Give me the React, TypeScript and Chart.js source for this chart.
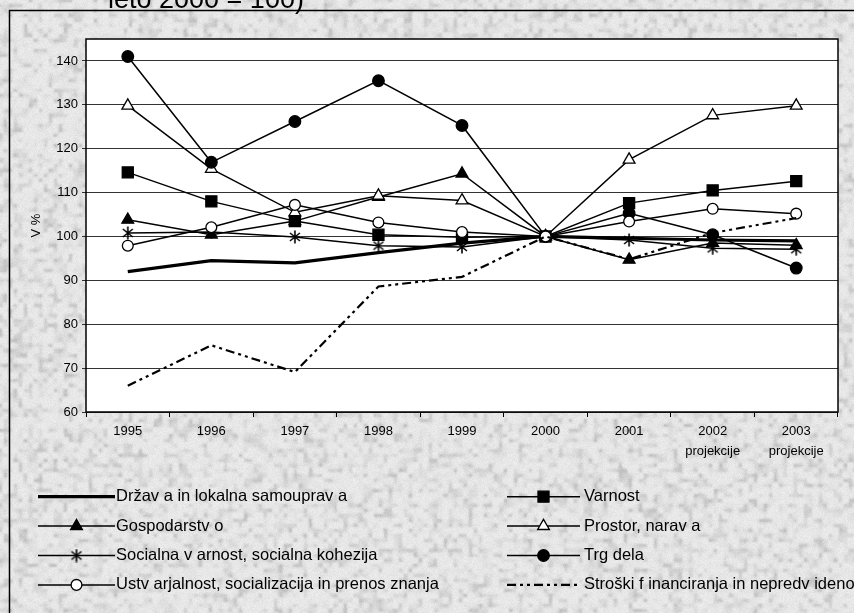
import React, { useEffect, useRef } from 'react';
import { Chart, registerables } from 'chart.js';

Chart.register(...registerables);

// ---------- data ----------
const years = ['1995', '1996', '1997', '1998', '1999', '2000', '2001', '2002', '2003'];
const yearNotes = ['', '', '', '', '', '', '', 'projekcije', 'projekcije'];
const yMin = 60;
const yMax = 145;
const yStep = 10;
const yLastTick = 140;
const yTitle = 'V %';
const headerText = 'leto 2000 = 100)';

const labelDrzava = 'Držav a in lokalna samouprav a';
const labelVarnost = 'Varnost';
const labelGospodarstvo = 'Gospodarstv o';
const labelProstor = 'Prostor, narav a';
const labelSocialna = 'Socialna v arnost, socialna kohezija';
const labelTrg = 'Trg dela';
const labelUstvarjalnost = 'Ustv arjalnost, socializacija in prenos znanja';
const labelStroski = 'Stroški f inanciranja in nepredv ideno';

const drzava = [92, 94.5, 94, 96.3, 98.5, 100, 99.6, 99.2, 99];
const varnost = [114.6, 108, 103.5, 100.4, 99.8, 100, 107.6, 110.5, 112.6];
const gospodarstvo = [103.8, 100.4, 103.5, 109, 114.3, 100, 94.7, 98.5, 98];
const prostor = [129.8, 115.4, 105.5, 109.3, 108.2, 100, 117.5, 127.6, 129.8];
const socialna = [100.8, 101, 99.9, 97.9, 97.6, 100, 99.2, 97.3, 97.1];
const trgDela = [141, 116.9, 126.2, 135.5, 125.3, 100, 105.3, 100.4, 92.8];
const ustvarjalnost = [97.9, 102.1, 107.2, 103.2, 101, 100, 103.4, 106.3, 105.2];
const stroski = [66, 75.2, 69.1, 88.6, 90.8, 100, 94.8, 100.8, 104.2];

// ---------- styling ----------
const FONT = "'Liberation Sans', Arial, sans-serif";

function makeAsterisk(): HTMLCanvasElement {
  const c = document.createElement('canvas');
  c.width = 14;
  c.height = 14;
  const g = c.getContext('2d')!;
  g.strokeStyle = '#000';
  g.lineWidth = 1.6;
  g.beginPath();
  g.moveTo(2, 3);
  g.lineTo(12, 11);
  g.moveTo(12, 3);
  g.lineTo(2, 11);
  g.moveTo(7, 0.5);
  g.lineTo(7, 13.5);
  g.stroke();
  return c;
}

let textureCache: ImageData | null = null;
function hash(x: number, y: number) {
  let h = (Math.imul(x, 374761393) + Math.imul(y, 668265263)) | 0;
  h = Math.imul(h ^ (h >>> 13), 1274126177);
  h = h ^ (h >>> 16);
  return (h >>> 0) / 4294967295;
}
function getTexture(ctx: CanvasRenderingContext2D, w: number, h: number) {
  if (textureCache && textureCache.width === w && textureCache.height === h) return textureCache;
  const img = ctx.createImageData(w, h);
  const cell = 5;
  const sm = (t: number) => t * t * (3 - 2 * t);
  for (let y = 0; y < h; y++) {
    for (let x = 0; x < w; x++) {
      const gx = x / cell, gy = y / cell;
      const x0 = Math.floor(gx), y0 = Math.floor(gy);
      const fx = sm(gx - x0), fy = sm(gy - y0);
      const a = hash(x0, y0), b = hash(x0 + 1, y0), c = hash(x0, y0 + 1), d = hash(x0 + 1, y0 + 1);
      const v = (a * (1 - fx) + b * fx) * (1 - fy) + (c * (1 - fx) + d * fx) * fy;
      const n = hash(x + 5000, y + 9000);
      let g = 238 - 40 * v * v * v - 12 * n;
      g = Math.max(0, Math.min(255, g));
      const i = (y * w + x) * 4;
      img.data[i] = g;
      img.data[i + 1] = g;
      img.data[i + 2] = g;
      img.data[i + 3] = 255;
    }
  }
  textureCache = img;
  return img;
}

function drawMarker(ctx: CanvasRenderingContext2D, ds: any, x: number, y: number) {
  const style = ds.pointStyle;
  const r = ds.pointRadius;
  if (!r) return;
  ctx.save();
  ctx.fillStyle = ds.pointBackgroundColor;
  ctx.strokeStyle = ds.pointBorderColor;
  ctx.lineWidth = ds.pointBorderWidth;
  ctx.setLineDash([]);
  if (style instanceof HTMLCanvasElement) {
    ctx.drawImage(style, x - style.width / 2, y - style.height / 2);
  } else if (style === 'rect') {
    const s = Math.SQRT1_2 * r;
    ctx.beginPath();
    ctx.rect(x - s, y - s, 2 * s, 2 * s);
    ctx.fill();
    ctx.stroke();
  } else if (style === 'triangle') {
    ctx.beginPath();
    ctx.moveTo(x, y - r);
    ctx.lineTo(x + r * 0.866, y + r * 0.5);
    ctx.lineTo(x - r * 0.866, y + r * 0.5);
    ctx.closePath();
    ctx.fill();
    ctx.stroke();
  } else {
    ctx.beginPath();
    ctx.arc(x, y, r, 0, Math.PI * 2);
    ctx.fill();
    ctx.stroke();
  }
  ctx.restore();
}

const decorPlugin = {
  id: 'decor',
  beforeDraw(chart: any) {
    const { ctx, width, height, chartArea } = chart;
    ctx.save();
    ctx.putImageData(getTexture(ctx, width, height), 0, 0);
    // outer frame
    ctx.strokeStyle = '#000';
    ctx.lineWidth = 1.5;
    ctx.beginPath();
    ctx.moveTo(9.5, height + 2);
    ctx.lineTo(9.5, 10.5);
    ctx.lineTo(width + 2, 10.5);
    ctx.stroke();
    // header text (cut by the top edge)
    ctx.fillStyle = '#000';
    ctx.font = `27px ${FONT}`;
    ctx.textBaseline = 'alphabetic';
    ctx.textAlign = 'left';
    ctx.fillText(headerText, 108, 8);
    // plot area background
    ctx.fillStyle = '#fff';
    ctx.fillRect(chartArea.left, chartArea.top, chartArea.right - chartArea.left, chartArea.bottom - chartArea.top);
    ctx.restore();
  },
  beforeDatasetsDraw(chart: any) {
    const { ctx, chartArea } = chart;
    ctx.save();
    ctx.strokeStyle = '#000';
    ctx.lineWidth = 1.5;
    ctx.strokeRect(chartArea.left, chartArea.top, chartArea.right - chartArea.left, chartArea.bottom - chartArea.top);
    ctx.restore();
  },
  afterDraw(chart: any) {
    const { ctx } = chart;
    const lineX = [[38, 115], [507, 580]];
    const textX = [116, 584];
    const rowY0 = 496.7;
    const rowStep = 29.4;
    chart.data.datasets.forEach((ds: any, i: number) => {
      const col = i % 2;
      const row = Math.floor(i / 2);
      const y = rowY0 + row * rowStep;
      const [x0, x1] = lineX[col];
      ctx.save();
      ctx.strokeStyle = ds.borderColor;
      ctx.lineWidth = ds.borderWidth;
      ctx.setLineDash(ds.borderDash || []);
      ctx.beginPath();
      ctx.moveTo(x0, y);
      ctx.lineTo(x1, y);
      ctx.stroke();
      ctx.restore();
      drawMarker(ctx, ds, (x0 + x1) / 2, y);
      ctx.save();
      ctx.fillStyle = '#000';
      ctx.font = `16.5px ${FONT}`;
      ctx.textBaseline = 'middle';
      ctx.textAlign = 'left';
      ctx.fillText(ds.label, textX[col], y);
      ctx.restore();
    });
  },
};

export default function App() {
  const ref = useRef<HTMLCanvasElement>(null);
  useEffect(() => {
    const asterisk = makeAsterisk();
    const labels = years.map((y, i) => (yearNotes[i] ? [y, yearNotes[i]] : y));
    const base = {
      borderColor: '#000',
      pointBorderColor: '#000',
      pointBorderWidth: 1.3,
      tension: 0,
      fill: false,
    };
    const datasets: any[] = [
      { ...base, label: labelDrzava, data: drzava, borderWidth: 3.2, pointRadius: 0, pointStyle: 'circle', pointBackgroundColor: '#000' },
      { ...base, label: labelVarnost, data: varnost, borderWidth: 1.5, pointRadius: 7.8, pointStyle: 'rect', pointBackgroundColor: '#000' },
      { ...base, label: labelGospodarstvo, data: gospodarstvo, borderWidth: 1.5, pointRadius: 6.8, pointStyle: 'triangle', pointBackgroundColor: '#000' },
      { ...base, label: labelProstor, data: prostor, borderWidth: 1.5, pointRadius: 6.8, pointStyle: 'triangle', pointBackgroundColor: '#fff' },
      { ...base, label: labelSocialna, data: socialna, borderWidth: 1.5, pointRadius: 6, pointStyle: asterisk, pointBackgroundColor: '#000' },
      { ...base, label: labelTrg, data: trgDela, borderWidth: 1.5, pointRadius: 5.8, pointStyle: 'circle', pointBackgroundColor: '#000' },
      { ...base, label: labelUstvarjalnost, data: ustvarjalnost, borderWidth: 1.5, pointRadius: 5.4, pointStyle: 'circle', pointBackgroundColor: '#fff' },
      { ...base, label: labelStroski, data: stroski, borderWidth: 2.2, borderDash: [9, 4, 3, 4, 3, 4], pointRadius: 0, pointStyle: 'circle', pointBackgroundColor: '#000' },
    ];
    datasets.forEach((d, i) => { d.order = 20 - i; d.pointHoverRadius = d.pointRadius; });

    const chart = new Chart(ref.current!, {
      type: 'line',
      data: { labels, datasets },
      options: {
        animation: false,
        responsive: false,
        events: [],
        layout: { padding: { left: 9, top: 39, right: 16, bottom: 141 } },
        plugins: {
          legend: { display: false },
          tooltip: { enabled: false },
        },
        scales: {
          x: {
            type: 'category',
            offset: true,
            grid: { offset: true, drawOnChartArea: false, drawTicks: true, tickLength: 5, color: '#000', lineWidth: 1 },
            border: { display: false },
            ticks: {
              color: '#000',
              font: { family: FONT, size: 13, lineHeight: 1.5 },
              padding: 5,
              maxRotation: 0,
              autoSkip: false,
            },
            afterFit: (s: any) => { s.height = 60; },
          },
          y: {
            min: yMin,
            max: yMax,
            ticks: { stepSize: yStep, color: '#000', font: { family: FONT, size: 13 }, padding: 4 },
            afterBuildTicks: (s: any) => { s.ticks = s.ticks.filter((t: any) => t.value <= yLastTick); },
            grid: { color: '#333', tickLength: 4, lineWidth: 1 },
            border: { display: false },
            title: { display: true, text: yTitle, color: '#000', font: { family: FONT, size: 13 }, padding: { top: 20, bottom: 0 } },
            afterFit: (s: any) => { s.width = 77; },
          },
        },
      },
      plugins: [decorPlugin],
    } as any);
    return () => chart.destroy();
  }, []);
  return (
    <div style={{ position: 'absolute', left: 0, top: 0, width: 854, height: 613 }}>
      <canvas ref={ref} width={854} height={613} style={{ display: 'block' }} />
    </div>
  );
}
